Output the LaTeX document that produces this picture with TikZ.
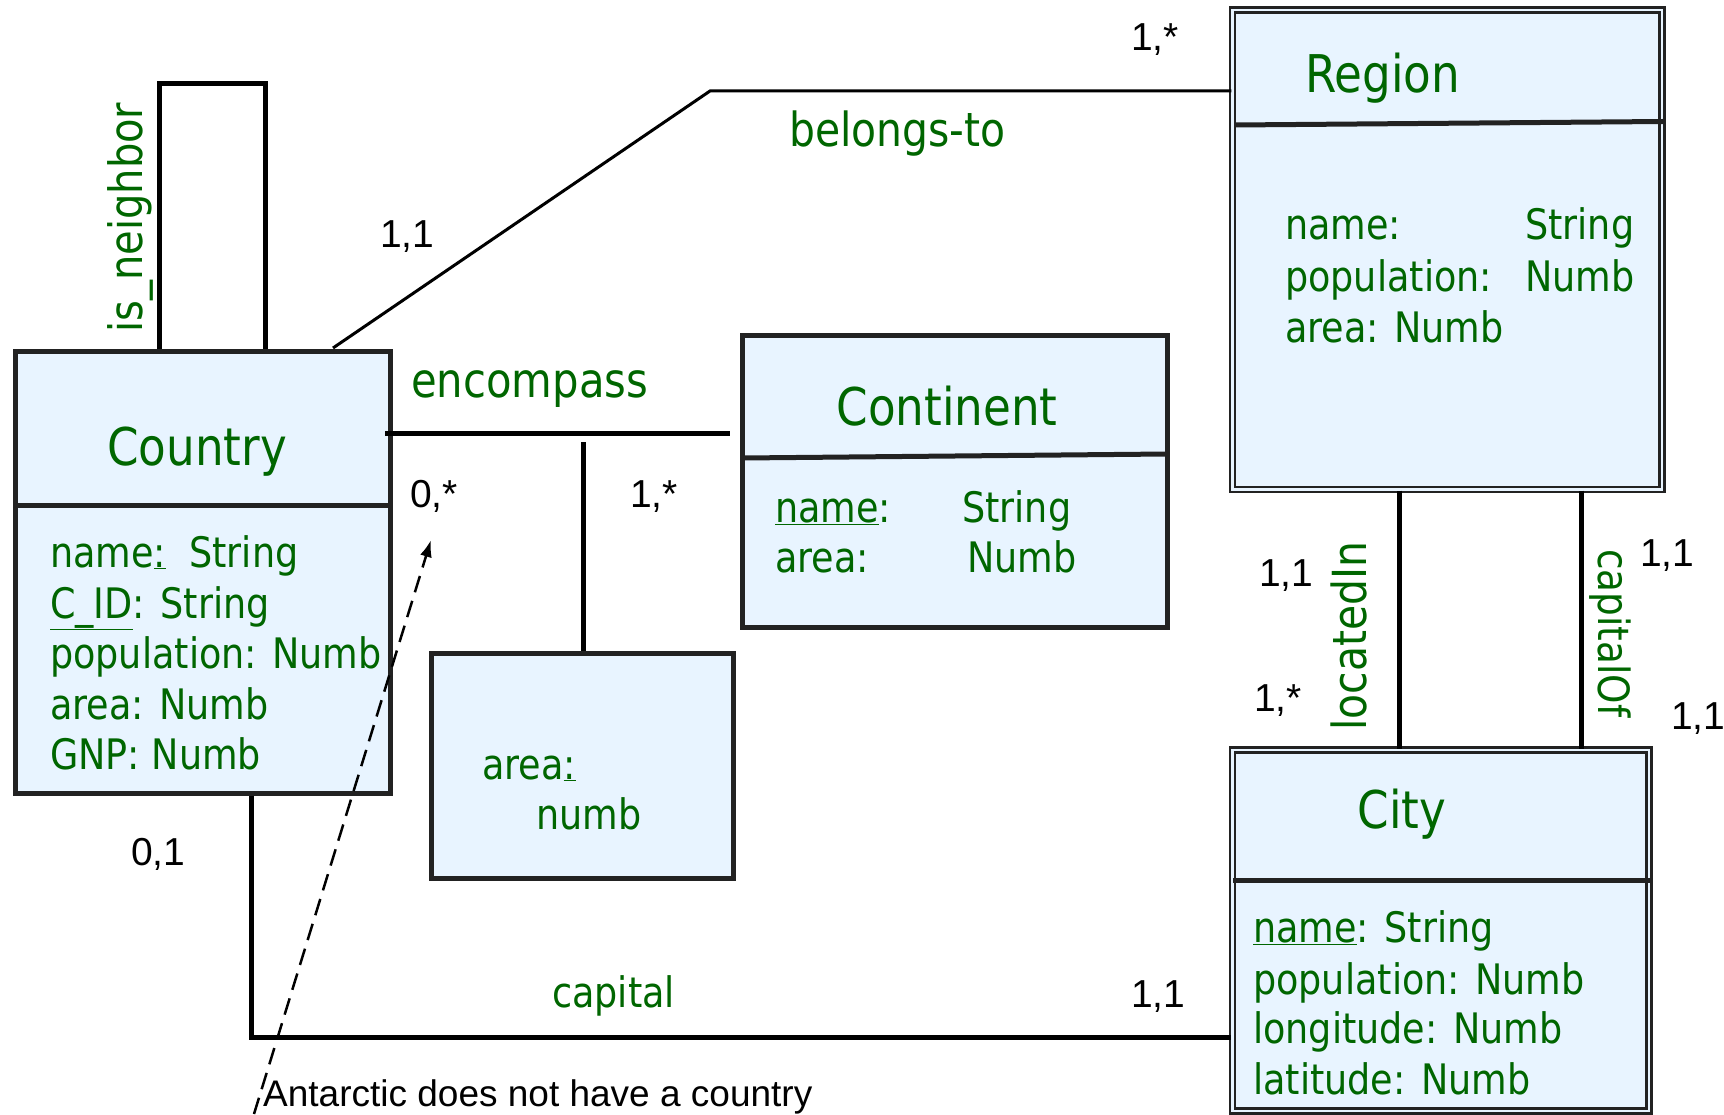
\documentclass[tikz,border=0pt]{standalone}
\usepackage{fontspec}
\setmainfont{Liberation Sans}
\newfontfamily\erfont[FakeStretch=0.87]{DejaVu Sans}
\usetikzlibrary{arrows.meta}
\definecolor{ergreen}{RGB}{0,102,0}
\definecolor{erfill}{RGB}{232,244,255}
\definecolor{erline}{RGB}{34,34,34}

\begin{document}
\begin{tikzpicture}[x=1pt, y=-1pt,
  entity/.style={draw=erline, fill=erfill, line width=5pt, inner sep=0pt},
  weakentity/.style={draw=erline, fill=erfill, line width=2.3pt, double=erfill, double distance=2.6pt, inner sep=0pt},
  divider/.style={draw=erline, line width=5pt},
  rel/.style={line width=5pt},
  title/.style={anchor=base, inner sep=0pt, text=ergreen, font=\erfont\fontsize{52}{60}\selectfont},
  attr/.style={anchor=base west, inner sep=0pt, text=ergreen, font=\erfont\fontsize{42}{50}\selectfont},
  relname/.style={anchor=base west, inner sep=0pt, text=ergreen, font=\erfont\fontsize{#1}{50}\selectfont},
  card/.style={anchor=base west, inner sep=0pt, font=\fontsize{39}{46}\selectfont}]
  \useasboundingbox (0,0) rectangle (1724,1115);

  % entidades
  \node[entity, minimum width=375pt, minimum height=442pt] (country) at (203,572) {};
  \node[entity, minimum width=425pt, minimum height=292pt] (continent) at (955,481.5) {};
  \node[entity, minimum width=301.5pt, minimum height=225pt] (areabox) at (582.25,766) {};
  \node[weakentity, minimum width=429.5pt, minimum height=479.5pt] (region) at (1447.25,249.75) {};
  \node[weakentity, minimum width=416.5pt, minimum height=361pt] (city) at (1440.75,930.5) {};

  % separadores
  \draw[divider] (16,505) -- (390,505);
  \draw[divider] (743,458) -- (1167,454);
  \draw[divider] (1235,125) -- (1663,121.5);
  \draw[divider] (1233,880) -- (1650,880);

  % Country
  \node[title] (countryname) at (197,465) {Country};
  \node[attr] (ca1) at (50,567) {name\underline{:}\ \ String};
  \node[attr] (ca2) at (50,618) {\underline{C\_ID}: String};
  \node[attr] (ca3) at (50,668) {population: Numb};
  \node[attr] (ca4) at (50,719) {area: Numb};
  \node[attr] (ca5) at (50,769) {GNP: Numb};

  % Continent
  \node[title] (continentname) at (947,425) {Continent};
  \node[attr] (na1) at (775,522) {\underline{name}:};
  \node[attr] (nt1) at (962,522) {String};
  \node[attr] (na2) at (775,572) {area:};
  \node[attr] (nt2) at (967,572) {Numb};

  % atributo de encompass
  \node[attr] (ea1) at (482,779) {area\underline{:}};
  \node[attr] (et1) at (536,829) {numb};

  % Region
  \node[title, anchor=base west] (regionname) at (1305,93) {Region};
  \node[attr] (ra1) at (1285,240) {name:};
  \node[attr] (rt1) at (1525,240) {String};
  \node[attr] (ra2) at (1285,292) {population:};
  \node[attr] (rt2) at (1525,292) {Numb};
  \node[attr] (ra3) at (1285,342) {area: Numb};

  % City
  \node[title] (cityname) at (1402,828) {City};
  \node[attr] (ya1) at (1253,942) {\underline{name}: String};
  \node[attr] (ya2) at (1253,994) {population: Numb};
  \node[attr] (ya3) at (1253,1043) {longitude: Numb};
  \node[attr] (ya4) at (1253,1094) {latitude: Numb};

  % is_neighbor
  \coordinate (nbl) at (159,84);
  \coordinate (nbr) at (265,84);
  \draw[rel] (nbl |- country.north) -- (nbl) -- (nbr) -- (nbr |- country.north);
  \node[relname=46, rotate=90] (isneighbor) at (142,333) {is\_neighbor};

  % belongs-to
  \coordinate (btfoot) at (333,348);
  \coordinate (btbend) at (710,91);
  \draw[line width=3pt] (btfoot) -- (btbend) -- (btbend -| region.west);
  \node[relname=47] (belongsto) at (789,147) {belongs-to};
  \node[card] (bt1) at (380,248) {1,1};
  \node[card] (bt2) at (1131,51) {1,*};

  % encompass
  \coordinate (encl) at (385,433);
  \coordinate (enct) at (583,442);
  \draw[rel, shorten >=10pt] (encl) -- (encl -| continent.west);
  \draw[rel] (enct) -- (enct |- areabox.north);
  \node[relname=48] (encompass) at (411,397) {encompass};
  \node[card] (en1) at (410,507) {0,*};
  \node[card] (en2) at (630,507) {1,*};

  % locatedIn y capitalOf
  \draw[rel] ([xshift=-48pt]region.south) -- ([xshift=-48pt]region.south |- city.north);
  \draw[rel] ([xshift=134pt]region.south) -- ([xshift=134pt]region.south |- city.north);
  \node[relname=47, rotate=90] (locatedin) at (1366,731) {locatedIn};
  \node[relname=43, rotate=-90] (capitalof) at (1598,549) {capitalOf};
  \node[card] (li1) at (1259,586) {1,1};
  \node[card] (li2) at (1254,711) {1,*};
  \node[card] (co1) at (1640,566) {1,1};
  \node[card] (co2) at (1671,729) {1,1};

  % capital
  \coordinate (capy) at (0,1037);
  \draw[rel] ([xshift=48pt]country.south) |- (capy -| city.west);
  \node[relname=42] (capital) at (552,1007) {capital};
  \node[card] (cp1) at (131,865) {0,1};
  \node[card] (cp2) at (1131,1007) {1,1};

  % nota
  \node[card, font=\fontsize{37}{44}\selectfont] (note) at (263,1106) {Antarctic does not have a country};
  \coordinate (notetip) at (431,540);
  \draw[line width=2.5pt, dash pattern=on 17pt off 9pt, -{Latex[length=17pt, width=12pt]}]
    ([xshift=-9pt,yshift=-8pt]note.base west) -- (notetip);
\end{tikzpicture}
\end{document}
